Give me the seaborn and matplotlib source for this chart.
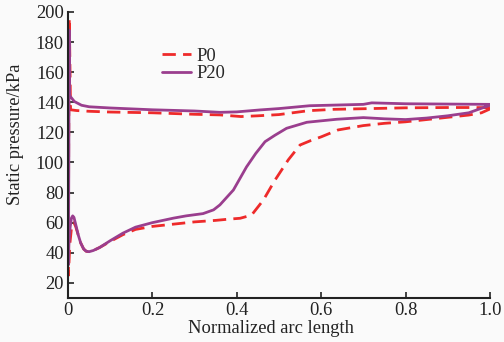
import matplotlib
matplotlib.use("Agg")
import matplotlib.pyplot as plt
import seaborn as sns
import pandas as pd

# P0 : upper surface (TE -> LE), leading-edge spike, lower surface (LE -> TE)
p0_x = [1.0, 0.95, 0.9, 0.8, 0.7, 0.63, 0.57, 0.5, 0.45, 0.41, 0.36, 0.3, 0.2, 0.1, 0.05, 0.02, 0.006,
        0.003, 0.0015, 0.001,
        0.004, 0.008, 0.011, 0.014, 0.018, 0.024, 0.03, 0.037, 0.043, 0.05, 0.06, 0.075, 0.1, 0.13,
        0.16, 0.2, 0.25, 0.3, 0.35, 0.38, 0.408, 0.435, 0.463, 0.49, 0.522, 0.55, 0.575, 0.6, 0.64,
        0.7, 0.75, 0.8, 0.85, 0.9, 0.95, 0.98, 1.0]
p0_y = [136.4, 136.5, 136.5, 136.3, 135.7, 135.3, 134.4, 131.8, 131.0, 130.5, 131.6, 132.0, 133.0, 133.5, 134.0, 134.5, 135.0,
        196.0, 110.0, 25.0,
        45.0, 56.0, 59.5, 60.0, 57.5, 52.0, 46.5, 42.5, 41.0, 40.7, 41.5, 43.5, 47.5, 52.0,
        55.5, 57.5, 59.0, 60.5, 61.5, 62.3, 62.9, 65.0, 75.0, 88.0, 101.7, 111.6, 114.5, 117.0, 121.6,
        124.5, 126.0, 127.0, 128.5, 130.0, 131.5, 133.0, 135.5]

# P20
p20_x = [1.0, 0.9, 0.8, 0.72, 0.70, 0.573, 0.5, 0.455, 0.4, 0.36, 0.3, 0.2, 0.1, 0.05, 0.032, 0.015, 0.005, 0.003,
         0.0025, 0.002, 0.001,
         0.002, 0.005, 0.008, 0.011, 0.014, 0.018, 0.024, 0.03, 0.037, 0.043, 0.05, 0.06, 0.075, 0.1, 0.13,
         0.16, 0.2, 0.25, 0.28, 0.32, 0.345, 0.36, 0.392, 0.423, 0.445, 0.467, 0.49, 0.518, 0.566, 0.637,
         0.7, 0.75, 0.8, 0.85, 0.9, 0.95, 1.0]
p20_y = [138.6, 138.8, 139.0, 139.6, 138.6, 137.7, 135.8, 134.9, 133.6, 133.3, 134.2, 135.0, 136.2, 137.0, 138.0, 140.5, 144.0, 145.5,
         188.0, 110.0, 32.0,
         45.0, 57.0, 63.0, 64.5, 63.5, 59.0, 52.0, 46.5, 42.5, 41.0, 40.7, 41.5, 43.5, 48.0, 53.0,
         57.0, 60.0, 63.0, 64.5, 66.0, 68.5, 71.8, 81.7, 97.0, 106.0, 113.8, 118.0, 122.7, 126.7, 128.7,
         129.8, 129.0, 128.5, 129.5, 131.0, 133.0, 138.0]

x_ticks = [0, 0.2, 0.4, 0.6, 0.8, 1.0]
x_tick_labels = ["0", "0.2", "0.4", "0.6", "0.8", "1.0"]
y_ticks = [20, 40, 60, 80, 100, 120, 140, 160, 180, 200]

sns.set_theme(style="ticks")
plt.rcParams['font.family'] = ['Liberation Serif', 'DejaVu Serif']

bg = "#fafafa"
fs = 13.3
fig = plt.figure(figsize=(5.04, 3.42), dpi=100, facecolor=bg)
ax = fig.add_axes([0.135, 0.129, 0.837, 0.836])
ax.set_facecolor(bg)

df0 = pd.DataFrame({"x": p0_x, "y": p0_y})
df20 = pd.DataFrame({"x": p20_x, "y": p20_y})

sns.lineplot(data=df0, x="x", y="y", sort=False, estimator=None, ax=ax,
             color="#ee2a2a", lw=2.0, linestyle=(0, (4.8, 2.6)), label="P0")
sns.lineplot(data=df20, x="x", y="y", sort=False, estimator=None, ax=ax,
             color="#9a3e8e", lw=2.0, label="P20")

ax.set_xlim(0, 1.0)
ax.set_ylim(10, 200)
ax.set_xticks(x_ticks)
ax.set_xticklabels(x_tick_labels)
ax.set_yticks(y_ticks)
ax.tick_params(direction="in", length=4, width=1.2, labelsize=fs, colors="#222222", pad=3)
for s in ["top", "right"]:
    ax.spines[s].set_visible(False)
for s in ["left", "bottom"]:
    ax.spines[s].set_linewidth(1.5)
    ax.spines[s].set_color("#222222")

ax.set_xlabel("Normalized arc length", fontsize=fs, color="#222222")
ax.set_ylabel("Static pressure/kPa", fontsize=fs, color="#222222")
ax.xaxis.set_label_coords(0.481, -0.107, transform=ax.transAxes)
ax.yaxis.set_label_coords(-0.125, 0.573, transform=ax.transAxes)
ax.xaxis.label.set_va("center")
ax.yaxis.label.set_va("center")

leg = ax.legend(loc="upper left", bbox_to_anchor=(0.205, 0.9), frameon=False, fontsize=fs,
                handlelength=1.55, handletextpad=0.3, labelspacing=0.02, borderaxespad=0)

fig.savefig("out.png", dpi=100, facecolor=bg)
